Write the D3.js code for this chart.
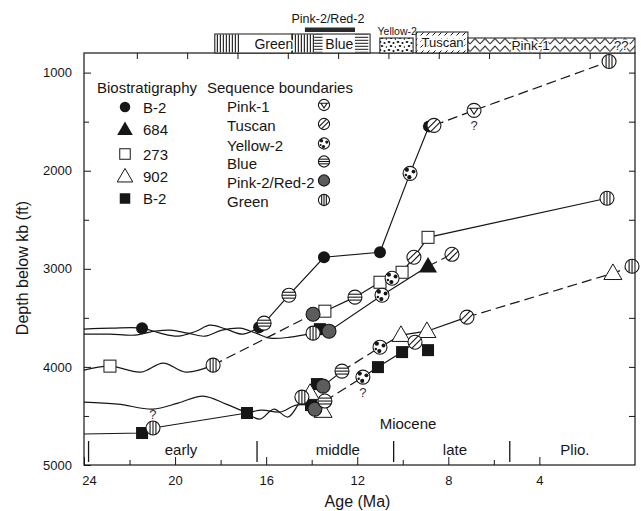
<!DOCTYPE html>
<html>
<head>
<meta charset="utf-8">
<script src="https://cdn.jsdelivr.net/npm/d3@7"></script>
<style>
  body { margin: 0; background: #fff; }
  svg { display: block; font-family: "Liberation Sans", Arial, Helvetica, sans-serif; }
</style>
</head>
<body>
<svg id="chart" width="641" height="511"></svg>
<script>
// ---------------- data (age in Ma, depth in ft below kb) ----------------
const ageMajorTicks = [24, 20, 16, 12, 8, 4];
const ageMinorTicks = [22, 18, 14, 10, 6];
const topAgeTicks = [22, 20, 18, 16, 14, 12, 10, 8, 6, 4];
const depthMajorTicks = [1000, 2000, 3000, 4000, 5000];
const depthMinorTicks = [1500, 2500, 3500, 4500];
const depthAllTicks = [1000, 1500, 2000, 2500, 3000, 3500, 4000, 4500];

// well traces: wavy = unconformity trace, solid = correlated, dashed = inferred
const traceB2circ_wavy = [[24.0,3615],[22.77,3605],[21.45,3605],[20.66,3656],[19.87,3687],[19.08,3636],[18.47,3575],[17.76,3615],[17.02,3666],[16.31,3595]];
const traceB2circ_solid = [[16.31,3595],[16.09,3554],[15.0,3269],[13.46,2882],[11.0,2831],[9.68,2027],[8.85,1548],[8.63,1538]];
const traceB2circ_dashed = [[8.63,1538],[6.87,1385],[0.94,887]];

const trace273_wavy = [[24.0,4032],[22.86,3992],[21.50,4053],[20.53,3961],[19.52,4053],[18.33,3982]];
const trace273_dashed = [[18.33,3982],[13.94,3463]];
const trace273_solid = [[13.94,3463],[13.42,3432],[12.10,3289],[11.0,3137],[10.47,3096],[10.03,3035],[9.51,2882],[8.89,2679],[1.03,2281]];

const trace684_wavy = [[24.0,3666],[22.86,3666],[21.76,3676],[20.88,3636],[20.22,3625],[19.43,3656],[18.69,3687],[17.94,3625],[17.15,3605],[16.45,3656],[15.83,3707],[14.95,3697],[13.94,3656]];
const trace684_solid = [[13.94,3656],[13.64,3615],[13.24,3636],[10.91,3269],[8.89,2974]];
const trace684_dashed = [[8.89,2974],[7.84,2852]];

const trace902_wavy = [[24.0,4359],[22.51,4379],[20.97,4430],[19.87,4369],[18.77,4297],[17.76,4379],[16.84,4470]];
const trace902_wavy2 = [[16.84,4470],[16.27,4532],[15.66,4430],[15.04,4511],[14.43,4308]];
const trace902_solid = [[14.43,4308],[14.07,4267],[13.77,4175],[13.50,4196],[12.67,4043]];
const trace902_dashed = [[12.67,4043],[11.0,3799]];
const trace902_solid2 = [[11.0,3799],[10.08,3676],[8.94,3636],[7.18,3493]];
const trace902_dashed2 = [[7.18,3493],[0.77,3045],[-0.07,2974]];

const traceB2sq_solid = [[24.0,4684],[21.45,4674],[20.97,4623],[16.84,4470]];
const traceB2sq_wavy = [[16.84,4470],[16.18,4440],[15.39,4460],[14.69,4389],[14.03,4389]];
const traceB2sq_solid2 = [[14.03,4389],[13.86,4430],[13.42,4348]];
const traceB2sq_dashed = [[13.42,4348],[11.75,4104]];
const traceB2sq_solid3 = [[11.75,4104],[11.09,4002],[10.03,3849],[9.46,3748]];

// biostratigraphic picks
const b2Circles = [[21.45,3605],[16.31,3595],[13.46,2882],[11.0,2831],[8.85,1548]];
const w684Triangles = [[8.89,2974]];
const w273Squares = [[22.86,3992],[13.42,3432],[11.0,3137],[10.03,3035],[8.89,2679]];
const w902Triangles = [[14.07,4267],[13.50,4450],[10.08,3676],[8.94,3636],[0.77,3045]];
const b2Squares = [[21.45,4674],[16.84,4470],[14.03,4389],[13.64,3615],[13.77,4175],[11.09,4002],[10.03,3849],[8.89,3829]];

// sequence boundary picks
const pink1Pts = [[6.87,1385]];
const tuscanPts = [[8.63,1538],[9.51,2882],[7.84,2852],[7.18,3493],[9.46,3748]];
const yellow2Pts = [[9.68,2027],[10.47,3096],[10.91,3269],[11.0,3799],[11.75,4104]];
const bluePts = [[16.09,3554],[15.0,3269],[12.10,3289],[12.67,4043],[13.42,4348]];
const pink2Pts = [[13.94,3463],[13.24,3636],[13.50,4196],[13.86,4430]];
const greenPts = [[18.33,3982],[13.94,3656],[14.43,4308],[20.97,4623],[1.03,2281],[0.94,887],[-0.07,2974]];

// queried picks: [age, depth, side]
const queried = [[6.87,1385,"below"],[11.75,4104,"below"],[20.97,4623,"above"]];

// epochs
const epochBounds = [23.8, 16.4, 10.4, 5.3];
const epochNames = ["early", "middle", "late", "Plio."];
const epochLabelAges = [19.74, 12.85, 7.71, 2.44];
const seriesName = "Miocene";
const seriesLabelAge = 9.77;

// sequence chart (top scale ages)
const seqBarNames = ["Green", "Blue", "Yellow-2", "Tuscan", "Pink-1"];
const seqBarFrom = [18.9, 15.83, 12.34, 10.90, 8.84];
const seqBarTo = [15.83, 12.73, 11.02, 8.84, 2.2];
const pink2BarFrom = 15.32, pink2BarTo = 13.33;

// legends
const bioLabels = ["B-2", "684", "273", "902", "B-2"];
const bioSymbols = ["circle", "triFilled", "square", "triOpen", "squareFilled"];
const seqLabels = ["Pink-1", "Tuscan", "Yellow-2", "Blue", "Pink-2/Red-2", "Green"];
const seqKinds = ["pink1", "tuscan", "yellow2", "blue", "pink2", "green"];

// ---------------- drawing ----------------
const svg = d3.select("#chart");
const INK = "#161616";
const L = 84, R = 635, T = 53, B = 465;

const x = d3.scaleLinear().domain([24, -0.2]).range([L, R]);
const xTop = d3.scaleLinear().domain([24.1, 2.2]).range([L, R]);
const y = d3.scaleLinear().domain([800, 5000]).range([T, B]);

const defs = svg.append("defs");
function pattern(id, w, h) {
  return defs.append("pattern").attr("id", id).attr("patternUnits", "userSpaceOnUse")
    .attr("width", w).attr("height", h);
}
pattern("pVert", 3, 6).append("rect").attr("x", 0.8).attr("width", 1.1).attr("height", 6).attr("fill", INK);
pattern("pHoriz", 6, 3).append("rect").attr("y", 0.8).attr("width", 6).attr("height", 1.0).attr("fill", INK);
pattern("pDiag", 6, 6).append("path").attr("d", "M0.5,5.5 L3.5,2.5").attr("stroke", INK).attr("stroke-width", 1);
const pdot = pattern("pDots", 9, 8);
[[2,2,1.4],[6.5,3,1.1],[4,6,1.3],[8.5,7,0.9]].forEach(d =>
  pdot.append("ellipse").attr("cx", d[0]).attr("cy", d[1]).attr("rx", d[2]).attr("ry", d[2]*0.8).attr("fill", INK));
pattern("pZig", 10, 7.5).append("path").attr("d", "M0,6.5 L5,1 L10,6.5")
  .attr("fill", "none").attr("stroke", INK).attr("stroke-width", 1);

// plot frame
svg.append("rect").attr("x", L).attr("y", T).attr("width", R - L).attr("height", B - T)
  .attr("fill", "none").attr("stroke", INK).attr("stroke-width", 1.2);

// axes
function cleanAxis(g) { g.select(".domain").remove(); g.selectAll("line").attr("stroke", INK); g.selectAll("text").attr("fill", INK); }
svg.append("g").attr("transform", `translate(0,${B})`)
  .call(d3.axisBottom(x).tickValues(ageMajorTicks).tickSize(-8).tickPadding(11).tickFormat(d3.format("d")))
  .call(cleanAxis)
  .call(g => g.selectAll("text").attr("font-size", 13).attr("font-family", null).attr("dx", d => d === 24 ? 5 : 0));
svg.append("g").attr("transform", `translate(0,${B})`)
  .call(d3.axisBottom(x).tickValues(ageMinorTicks).tickSize(-5).tickFormat(""))
  .call(cleanAxis);
svg.append("g").attr("transform", `translate(0,${T})`)
  .call(d3.axisTop(xTop).tickValues(topAgeTicks).tickSize(-6).tickFormat(""))
  .call(cleanAxis);
svg.append("g").attr("transform", `translate(${L},0)`)
  .call(d3.axisLeft(y).tickValues(depthMajorTicks).tickSize(-7).tickPadding(12).tickFormat(d3.format("d")))
  .call(cleanAxis).call(g => g.selectAll("text").attr("font-size", 13).attr("font-family", null));
svg.append("g").attr("transform", `translate(${L},0)`)
  .call(d3.axisLeft(y).tickValues(depthMinorTicks).tickSize(-5).tickFormat(""))
  .call(cleanAxis);
svg.append("g").attr("transform", `translate(${R},0)`)
  .call(d3.axisRight(y).tickValues(depthAllTicks).tickSize(-6).tickFormat(""))
  .call(cleanAxis);

// axis titles
svg.append("text").attr("x", (L + R) / 2 - 2).attr("y", 507).attr("text-anchor", "middle")
  .attr("font-size", 16).attr("fill", INK).text("Age (Ma)");
svg.append("text").attr("transform", `translate(28,${268}) rotate(-90)`).attr("text-anchor", "middle")
  .attr("font-size", 16).attr("fill", INK).text("Depth below kb (ft)");

// epoch annotation
svg.append("g").selectAll("line").data(epochBounds).join("line")
  .attr("x1", d => x(d)).attr("x2", d => x(d)).attr("y1", 441).attr("y2", 462)
  .attr("stroke", INK).attr("stroke-width", 1.3);
svg.append("g").selectAll("text").data(epochNames).join("text")
  .attr("x", (d, i) => x(epochLabelAges[i])).attr("y", 455).attr("text-anchor", "middle")
  .attr("font-size", 15).attr("fill", INK).text(d => d);
svg.append("text").attr("x", x(seriesLabelAge)).attr("y", 429).attr("text-anchor", "middle")
  .attr("font-size", 15).attr("fill", INK).text(seriesName);

// sequence chart along the top
const barTop = { "Green": 34, "Blue": 34, "Yellow-2": 38, "Tuscan": 32, "Pink-1": 38 };
const barFill = { "Green": "#fff", "Blue": "#fff", "Yellow-2": "url(#pDots)", "Tuscan": "url(#pDiag)", "Pink-1": "url(#pZig)" };
const bars = svg.append("g");
seqBarNames.forEach((name, i) => {
  const x0 = xTop(seqBarFrom[i]), x1 = xTop(seqBarTo[i]);
  bars.append("rect").attr("x", x0).attr("y", barTop[name]).attr("width", x1 - x0).attr("height", T - barTop[name])
    .attr("fill", "#fff");
  bars.append("rect").attr("x", x0).attr("y", barTop[name]).attr("width", x1 - x0).attr("height", T - barTop[name])
    .attr("fill", barFill[name]).attr("stroke", INK).attr("stroke-width", 1);
});
// striped sub-intervals within the Green and Blue bars
const subFills = [[18.9, 17.9, "url(#pVert)"], [15.83, 14.95, "url(#pVert)"], [14.95, 14.62, "url(#pHoriz)"], [13.33, 12.80, "url(#pHoriz)"]];
subFills.forEach(s => {
  bars.append("rect").attr("x", xTop(s[0])).attr("y", 34.5).attr("width", xTop(s[1]) - xTop(s[0])).attr("height", 18)
    .attr("fill", s[2]);
});
// Pink-2/Red-2 bar above Blue
bars.append("rect").attr("x", xTop(pink2BarFrom)).attr("y", 27.5).attr("width", xTop(pink2BarTo) - xTop(pink2BarFrom)).attr("height", 4.5)
  .attr("fill", "#2a2a2a");
bars.append("text").attr("x", xTop((pink2BarFrom + pink2BarTo) / 2) - 2).attr("y", 23).attr("text-anchor", "middle")
  .attr("font-size", 12.5).attr("fill", INK).text("Pink-2/Red-2");
// labels inside the bars
function barLabel(txt, cx, cy, size) {
  bars.append("text").attr("x", cx).attr("y", cy).attr("text-anchor", "middle").attr("font-size", size)
    .attr("fill", INK).attr("stroke", "#fff").attr("stroke-width", 3).attr("paint-order", "stroke").text(txt);
}
barLabel("Green", xTop(16.55), 49, 14);
barLabel("Blue", xTop(13.95), 49, 14);
barLabel("Tuscan", xTop(9.85), 47, 13);
barLabel("Pink-1", xTop(6.35), 50, 13.5);
barLabel("??", xTop(2.75), 50, 13);
bars.append("text").attr("x", xTop(11.65)).attr("y", 35).attr("text-anchor", "middle").attr("font-size", 10.5)
  .attr("fill", INK).text("Yellow-2");

// traces
const line = d3.line().x(d => x(d[0])).y(d => y(d[1]));
const wavy = d3.line().x(d => x(d[0])).y(d => y(d[1])).curve(d3.curveCatmullRom.alpha(0.5));
const traces = svg.append("g").attr("fill", "none");
[traceB2circ_wavy, trace273_wavy, trace684_wavy, trace902_wavy, trace902_wavy2, traceB2sq_wavy].forEach(t =>
  traces.append("path").attr("d", wavy(t)).attr("stroke", INK).attr("stroke-width", 1.2));
[traceB2circ_solid, trace273_solid, trace684_solid, trace902_solid, trace902_solid2, traceB2sq_solid, traceB2sq_solid2, traceB2sq_solid3].forEach(t =>
  traces.append("path").attr("d", line(t)).attr("stroke", INK).attr("stroke-width", 1.2));
[traceB2circ_dashed, trace273_dashed, trace684_dashed, trace902_dashed, trace902_dashed2, traceB2sq_dashed].forEach(t =>
  traces.append("path").attr("d", line(t)).attr("stroke", INK).attr("stroke-width", 1.2).attr("stroke-dasharray", "10,5"));

// symbols
function bioSymbol(g, kind, s) {
  const tri = `M0,${-s * 0.62} L${s * 0.6},${s * 0.42} L${-s * 0.6},${s * 0.42} Z`;
  if (kind === "circle") g.append("circle").attr("r", s / 2).attr("fill", INK);
  if (kind === "triFilled") g.append("path").attr("d", tri).attr("fill", INK);
  if (kind === "triOpen") g.append("path").attr("d", tri).attr("fill", "#fff").attr("stroke", INK).attr("stroke-width", 1);
  if (kind === "square") g.append("rect").attr("x", -s / 2).attr("y", -s / 2).attr("width", s).attr("height", s)
    .attr("fill", "#fff").attr("stroke", INK).attr("stroke-width", 1);
  if (kind === "squareFilled") g.append("rect").attr("x", -s / 2).attr("y", -s / 2).attr("width", s).attr("height", s)
    .attr("fill", INK);
}
function seqSymbol(g, kind, r) {
  g.append("circle").attr("r", r).attr("fill", kind === "pink2" ? "#5c5c5c" : "#fff")
    .attr("stroke", INK).attr("stroke-width", 1.1);
  const chord = (d, ux, uy) => {
    const h = Math.sqrt(Math.max(r * r - d * d, 0));
    const cx = -uy * d, cy = ux * d;
    g.append("line").attr("x1", cx - ux * h).attr("y1", cy - uy * h).attr("x2", cx + ux * h).attr("y2", cy + uy * h)
      .attr("stroke", INK).attr("stroke-width", 1.1);
  };
  const o = r * 0.42;
  if (kind === "green") [-o, 0, o].forEach(d => chord(d, 0, 1));
  if (kind === "blue") [-o, 0, o].forEach(d => chord(d, 1, 0));
  if (kind === "tuscan") [-r * 0.3, r * 0.3].forEach(d => chord(d, Math.SQRT1_2, -Math.SQRT1_2));
  if (kind === "yellow2") {
    [[-0.45, -0.5, 0.3], [0.5, -0.25, 0.28], [-0.1, 0.55, 0.3], [-0.6, 0.25, 0.18]].forEach(b =>
      g.append("circle").attr("cx", b[0] * r).attr("cy", b[1] * r).attr("r", b[2] * r).attr("fill", INK));
  }
  if (kind === "pink1") {
    g.append("path").attr("d", `M${-r * 0.85},${-r * 0.3} L${r * 0.85},${-r * 0.3} M${-r * 0.55},${-r * 0.3} L0,${r * 0.55} L${r * 0.55},${-r * 0.3}`)
      .attr("fill", "none").attr("stroke", INK).attr("stroke-width", 1.1);
  }
}

const marks = svg.append("g");
function placeBio(pts, kind, s) {
  pts.forEach(p => bioSymbol(marks.append("g").attr("transform", `translate(${x(p[0])},${y(p[1])})`), kind, s));
}
function placeSeq(pts, kind) {
  pts.forEach(p => seqSymbol(marks.append("g").attr("transform", `translate(${x(p[0])},${y(p[1])})`), kind, 7));
}
placeBio(b2Circles, "circle", 12);
placeBio(b2Squares, "squareFilled", 12);
placeBio(w273Squares, "square", 12);
placeBio(w684Triangles, "triFilled", 15);
placeBio(w902Triangles, "triOpen", 15);
placeSeq(pink2Pts, "pink2");
placeSeq(greenPts, "green");
placeSeq(bluePts, "blue");
placeSeq(yellow2Pts, "yellow2");
placeSeq(tuscanPts, "tuscan");
placeSeq(pink1Pts, "pink1");

// query marks
svg.append("g").selectAll("text").data(queried).join("text")
  .attr("x", d => x(d[0])).attr("y", d => y(d[1]) + (d[2] === "below" ? 20 : -9))
  .attr("text-anchor", "middle").attr("font-size", 13).attr("fill", "#333").text("?");

// legend
const leg = svg.append("g").attr("fill", INK).attr("font-size", 15);
leg.append("text").attr("x", 97).attr("y", 93).text("Biostratigraphy");
leg.append("text").attr("x", 207).attr("y", 93).text("Sequence boundaries");
const bioRowY = [107, 129.5, 154, 176.5, 198.5];
bioLabels.forEach((lab, i) => {
  bioSymbol(leg.append("g").attr("transform", `translate(125,${bioRowY[i]})`), bioSymbols[i],
    bioSymbols[i].startsWith("tri") ? 13 : 10.5);
  leg.append("text").attr("x", 143).attr("y", bioRowY[i] + 5.5).text(lab);
});
const seqRowY = [106.5, 125.5, 145, 163, 182, 201.5];
seqLabels.forEach((lab, i) => {
  seqSymbol(leg.append("g").attr("transform", `translate(324,${seqRowY[i] - 1.5})`), seqKinds[i], 5.6);
  leg.append("text").attr("x", 227).attr("y", seqRowY[i] + 5.5).text(lab);
});
</script>
</body>
</html>
